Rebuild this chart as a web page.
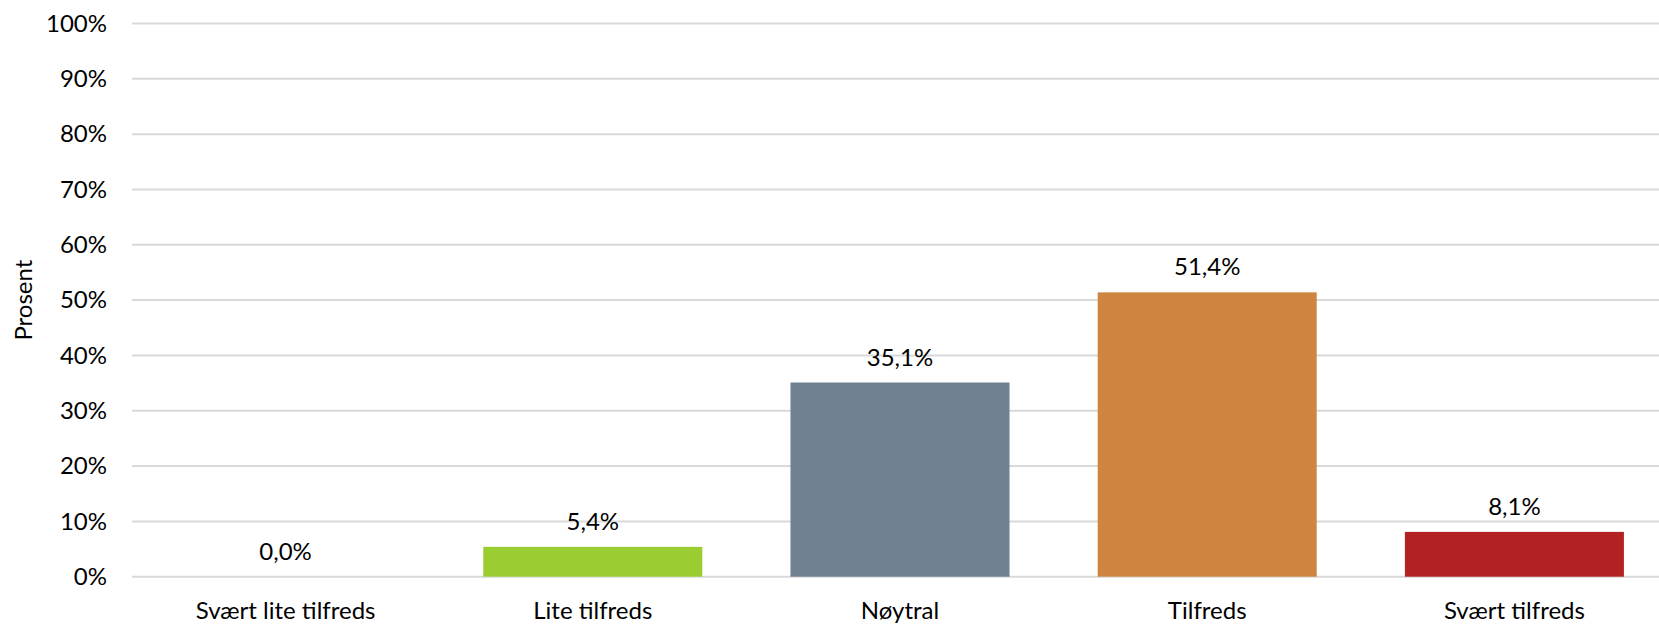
<!DOCTYPE html>
<html>
<head>
<meta charset="utf-8">
<script src="https://cdn.jsdelivr.net/npm/d3@7"></script>
<style>
  body { margin: 0; background: #fff; }
  text { font-family: Lato, 'Open Sans', sans-serif; fill: #000; }
  .grid line { stroke: #d9d9d9; stroke-width: 2; }
</style>
</head>
<body>
<div id="chart"></div>
<script>
const categories = ['Svært lite tilfreds', 'Lite tilfreds', 'Nøytral', 'Tilfreds', 'Svært tilfreds']
const values = [0.0, 5.4, 35.1, 51.4, 8.1]
const colors = ['#9acd32', '#9acd32', '#708090', '#cd853f', '#b22222']
const yTicks = [0, 10, 20, 30, 40, 50, 60, 70, 80, 90, 100]

const width = 1659
const height = 624
// plot area runs a little past the right edge of the picture
const margin = { top: 23.5, left: 132, right: -9, bottom: 47.3 }

const svg = d3
  .select('#chart')
  .append('svg')
  .attr('width', width)
  .attr('height', height)

const xPositionScale = d3
  .scaleBand()
  .domain(categories)
  .range([margin.left, width - margin.right])
  .paddingInner(0.287)
  .paddingOuter(0.1435)

const yPositionScale = d3
  .scaleLinear()
  .domain([0, 100])
  .range([height - margin.bottom, margin.top])

// gridlines
svg
  .append('g')
  .attr('class', 'grid')
  .selectAll('line')
  .data(yTicks)
  .enter()
  .append('line')
  .attr('x1', margin.left)
  .attr('x2', width - margin.right)
  .attr('y1', d => yPositionScale(d))
  .attr('y2', d => yPositionScale(d))

// y tick labels
const yAxis = d3
  .axisLeft(yPositionScale)
  .tickValues(yTicks)
  .tickFormat(d => d + '%')
  .tickSize(0)
  .tickPadding(25)

svg
  .append('g')
  .attr('class', 'axis y-axis')
  .attr('transform', 'translate(' + margin.left + ',0)')
  .call(yAxis)
  .call(g => g.select('.domain').remove())
  .selectAll('text')
  .style('font-size', '24px')
  .style('font-family', 'Lato')

// x labels
const xAxis = d3
  .axisBottom(xPositionScale)
  .tickSize(0)
  .tickPadding(25)

svg
  .append('g')
  .attr('class', 'axis x-axis')
  .attr('transform', 'translate(0,' + yPositionScale(0) + ')')
  .call(xAxis)
  .call(g => g.select('.domain').remove())
  .selectAll('text')
  .style('font-size', '24px')
  .style('font-family', 'Lato')

// bars
svg
  .selectAll('.bar')
  .data(values)
  .enter()
  .append('rect')
  .attr('class', 'bar')
  .attr('x', (d, i) => xPositionScale(categories[i]))
  .attr('width', xPositionScale.bandwidth())
  .attr('y', d => yPositionScale(d))
  .attr('height', d => yPositionScale(0) - yPositionScale(d))
  .attr('fill', (d, i) => colors[i])

// value labels
svg
  .selectAll('.value-label')
  .data(values)
  .enter()
  .append('text')
  .attr('class', 'value-label')
  .attr('x', (d, i) => xPositionScale(categories[i]) + xPositionScale.bandwidth() / 2)
  .attr('y', d => yPositionScale(d) - 17)
  .attr('text-anchor', 'middle')
  .style('font-size', '24px')
  .text(d => d.toFixed(1).replace('.', ',') + '%')

// y axis title
svg
  .append('text')
  .attr('transform', 'translate(32,' + yPositionScale(50) + ') rotate(-90)')
  .attr('text-anchor', 'middle')
  .style('font-size', '24px')
  .text('Prosent')
</script>
</body>
</html>
